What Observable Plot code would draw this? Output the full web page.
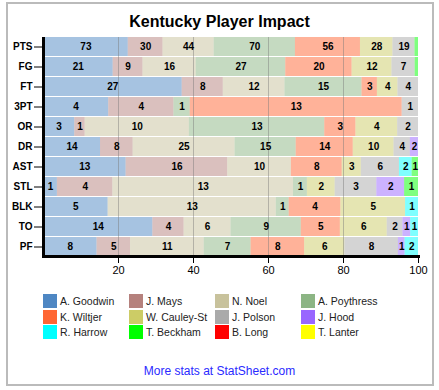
<!DOCTYPE html>
<html><head><meta charset="utf-8">
<script src="https://cdn.jsdelivr.net/npm/d3@7"></script>
<script src="https://cdn.jsdelivr.net/npm/@observablehq/plot@0.6"></script>
<style>
body{margin:0;background:#fff;font-family:Arial,"Liberation Sans",sans-serif;}
#frame{position:absolute;left:6px;top:2px;width:424px;height:380px;border:2px solid #bbb;}
#title{position:absolute;left:0;width:439px;top:12px;text-align:center;font-weight:bold;font-size:16px;line-height:20px;color:#000;}
#chart{position:absolute;left:0;top:30px;}
.item{position:absolute;height:14px;font-size:10.5px;line-height:14px;color:#222;white-space:nowrap;}
.sw{position:absolute;left:0;top:0;width:14px;height:14px;}
.lbl{position:absolute;left:17px;top:0;}
#footer{position:absolute;left:0;width:439px;top:364px;text-align:center;font-size:12px;line-height:14px;color:#2a2aff;}
</style>
</head><body>
<div id="frame"></div>
<div id="title">Kentucky Player Impact</div>
<div id="chart"></div>
<div id="legend"></div>
<div id="footer">More stats at StatSheet.com</div>
<script>
const stats = ["PTS","FG","FT","3PT","OR","DR","AST","STL","BLK","TO","PF"];
const players = ["A. Goodwin","J. Mays","N. Noel","A. Poythress","K. Wiltjer","W. Cauley-St","J. Polson","J. Hood","R. Harrow","T. Beckham","B. Long","T. Lanter"];
const colors = ["#4e87c3","#b5817d","#c8c29c","#8cb584","#ff6633","#cccc66","#aaaaaa","#9966ff","#00ffff","#00ff00","#ff0000","#ffff00"];

const goodwin   = [73,21,27,4,3,14,13,1,5,14,8];
const mays      = [30,9,8,4,1,8,16,4,0,4,5];
const noel      = [44,16,12,0,10,25,10,13,13,6,11];
const poythress = [70,27,15,1,13,15,0,1,1,9,7];
const wiltjer   = [56,20,3,13,3,14,8,0,4,5,8];
const cauley    = [28,12,4,0,4,10,3,2,5,6,6];
const polson    = [19,7,4,1,2,4,6,3,0,2,8];
const hood      = [0,0,0,0,0,2,0,2,0,1,1];
const harrow    = [0,0,0,0,0,0,2,0,1,1,2];
const beckham   = [3,1,0,0,0,0,1,1,0,0,0];
const long      = [0,0,0,0,0,0,0,0,0,0,0];
const lanter    = [0,0,0,0,0,0,0,0,0,0,0];
const xTicks = [20,40,60,80,100];

const series = [goodwin,mays,noel,poythress,wiltjer,cauley,polson,hood,harrow,beckham,long,lanter];
const rows = players.flatMap((p,j) => stats.map((s,i) => ({stat:s, player:p, value:series[j][i]}))).filter(d => d.value > 0);
const totals = new Map(stats.map((s,i) => [s, d3.sum(series, v => v[i])]));

const chart = Plot.plot({
  width: 439,
  height: 256,
  marginTop: 7,
  marginBottom: 30,
  marginLeft: 43,
  marginRight: 21,
  style: {fontFamily: "Arial, 'Liberation Sans', sans-serif", color: "#000", background: "transparent"},
  x: {domain: [0,1]},
  y: {domain: stats, paddingInner: 0.06, paddingOuter: 0},
  color: {domain: players, range: colors},
  marks: [
    Plot.barX(rows, Plot.stackX({x: "value", y: "stat", z: "player", fill: "player", offset: "normalize", fillOpacity: 0.5})),
    Plot.ruleX(xTicks.slice(0,4).map(d => d/100), {stroke: "#777", strokeOpacity: 0.45}),
    Plot.text(rows, Plot.stackX({x: "value", y: "stat", z: "player", offset: "normalize",
      text: d => d.value / totals.get(d.stat) > 0.012 ? String(d.value) : "",
      fill: "#000", fontWeight: "bold", fontSize: 10})),
    Plot.axisY({tickSize: 9, tickPadding: 2, fontWeight: "bold", fontSize: 10, stroke: "#000", label: null}),
    Plot.axisX({ticks: xTicks.map(d => d/100), tickFormat: d => Math.round(d*100), tickSize: 7, tickPadding: 3, fontSize: 11, stroke: "#000", label: null}),
    Plot.ruleX([0], {stroke: "#000", strokeWidth: 3}),
    Plot.frame({anchor: "bottom", stroke: "#000", strokeWidth: 3})
  ]
});
document.getElementById("chart").appendChild(chart);

const legend = document.getElementById("legend");
players.forEach((p, i) => {
  const col = i % 4, row = Math.floor(i / 4);
  const item = document.createElement("div");
  item.className = "item";
  item.style.left = (43 + col * 86) + "px";
  item.style.top = (294 + row * 15.6) + "px";
  item.innerHTML = `<div class="sw" style="background:${colors[i]}"></div><div class="lbl"></div>`;
  item.querySelector(".lbl").textContent = p;
  legend.appendChild(item);
});
</script>
</body></html>
